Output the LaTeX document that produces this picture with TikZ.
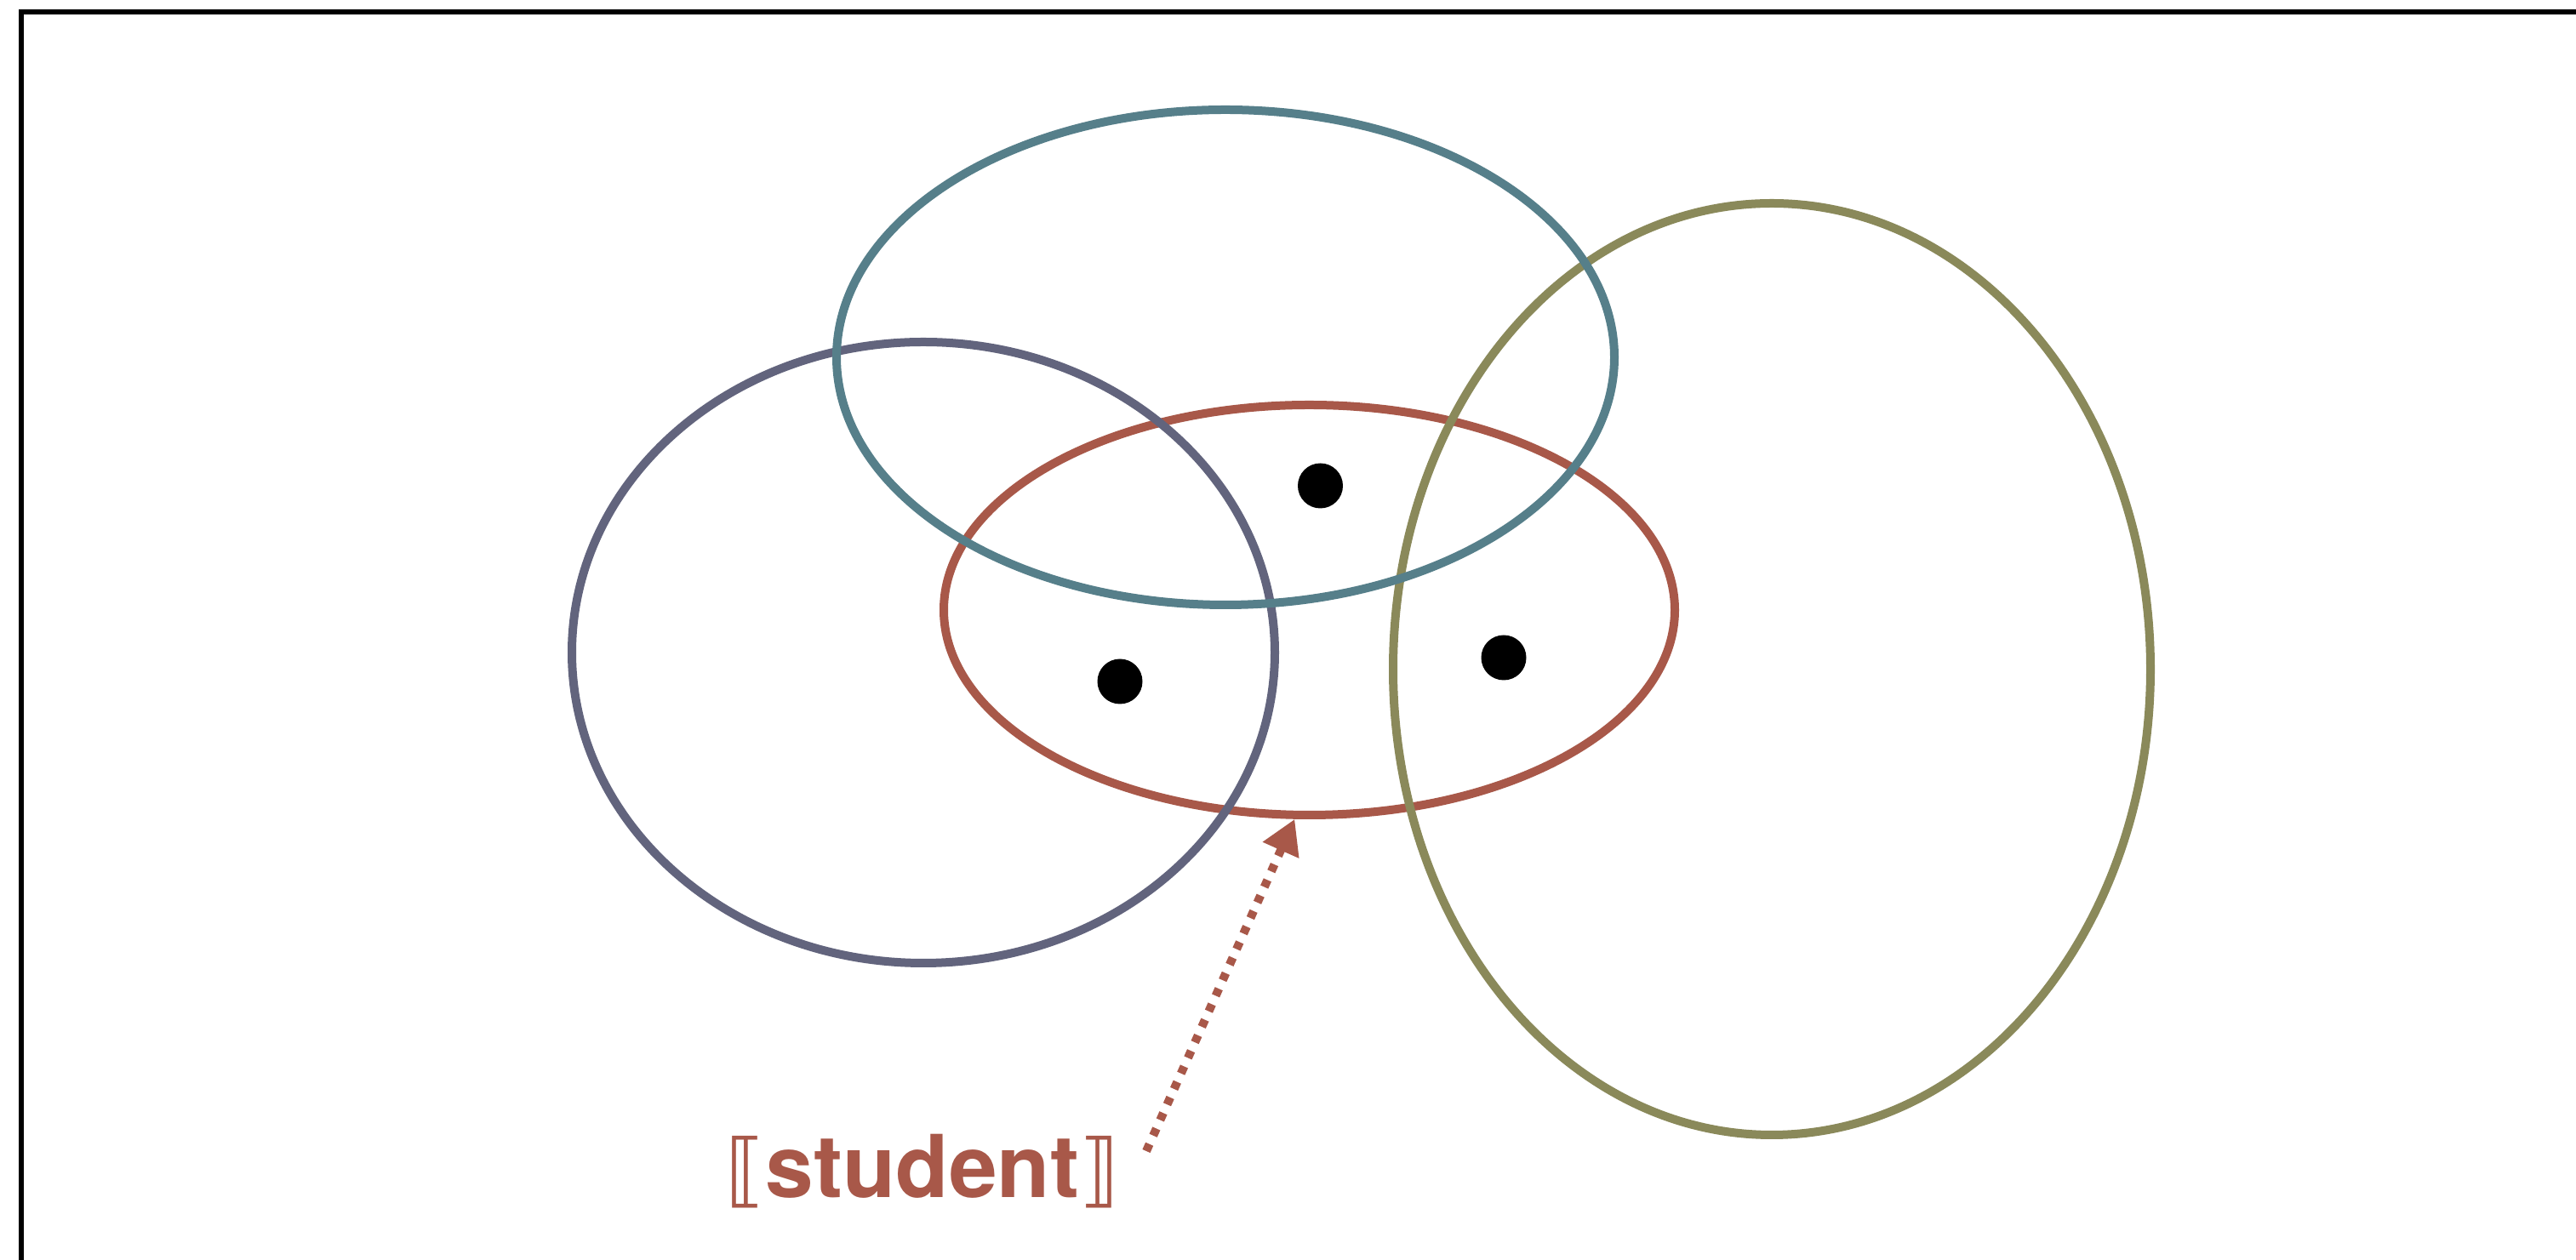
\documentclass[tikz,border=0pt]{standalone}
\usepackage{fontspec}
\newfontfamily\labelfont{TeX Gyre Heros}
\newfontfamily\bracketfont{DejaVu Sans}
\usetikzlibrary{arrows.meta, shapes.geometric}
\definecolor{setgray}{HTML}{62647D}
\definecolor{setteal}{HTML}{567F8A}
\definecolor{setred}{HTML}{A85849}
\definecolor{setolive}{HTML}{8A895A}

\begin{document}
\begin{tikzpicture}[
    venn/.style={draw, ellipse, line width=1mm, inner sep=0pt},
    elem/.style={circle, fill=black, minimum size=0.53cm, inner sep=0pt},
  ]
    \useasboundingbox (0,0) rectangle (30.27,14.81);
    % frame
    \draw[line width=0.6mm] (0.25,0) -- (0.25,14.67) -- (30.27,14.67);

    % sets
    \node[venn, setred, minimum width=8.59cm, minimum height=4.82cm] (red) at (15.385,7.64) {};
    \node[venn, setgray, minimum width=8.26cm, minimum height=7.3cm] (gray) at (10.85,7.14) {};
    \node[venn, setolive, minimum width=8.9cm, minimum height=10.95cm] (olive) at (20.82,6.945) {};
    \node[venn, setteal, minimum width=9.14cm, minimum height=5.82cm] (teal) at (14.40,10.61) {};

    % elements
    \node[elem] (e1) at (15.515,9.10) {};
    \node[elem] (e2) at (13.16,6.80) {};
    \node[elem] (e3) at (17.67,7.08) {};

    % label
    \node[text=setred, font=\labelfont\bfseries\fontsize{29}{34}\selectfont, inner sep=0pt] (lbl) at (10.84,1.04)
      {{\bracketfont\mdseries\fontsize{27}{34}\selectfont ⟦}student{\bracketfont\mdseries\fontsize{27}{34}\selectfont ⟧}};
    \coordinate (tail) at (13.47,1.28);
    \draw[setred, line width=1mm, dash pattern=on 0.9mm off 1.1mm,
      -{Triangle[length=4mm,width=4.4mm]}] (tail) -- (red.266);
\end{tikzpicture}
\end{document}
